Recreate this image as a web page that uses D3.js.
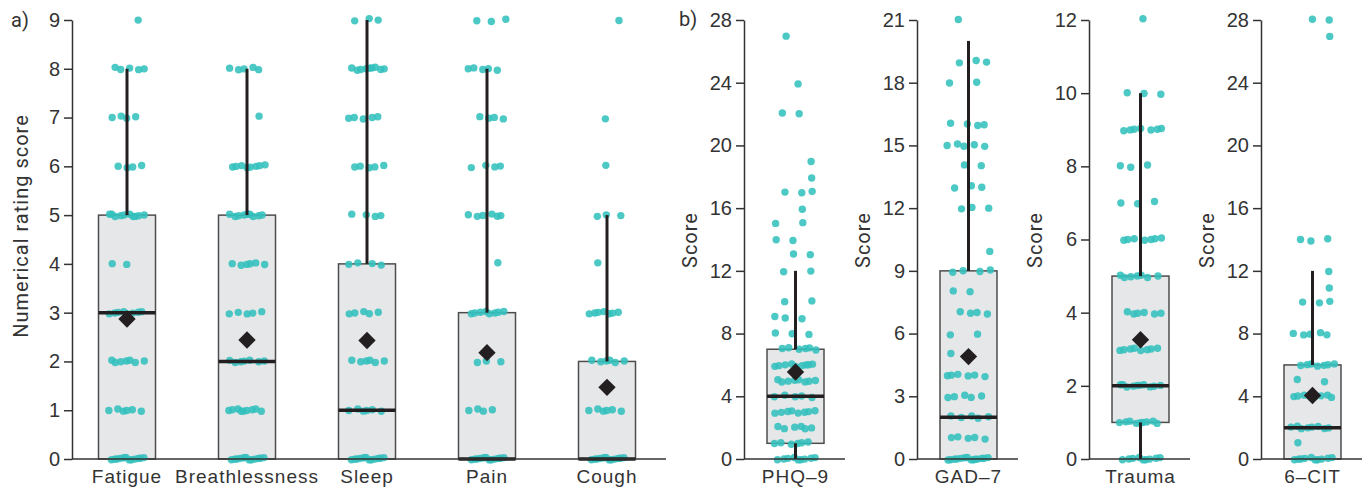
<!DOCTYPE html>
<html>
<head>
<meta charset="utf-8">
<script src="https://cdn.jsdelivr.net/npm/d3@7"></script>
<style>
  body { margin: 0; background: #fff; }
  svg { display: block; font-family: Roboto, "DejaVu Sans", sans-serif; }
  .tick text { font-size: 20px; fill: #333; }
</style>
</head>
<body>
<svg id="chart" width="1363" height="491"></svg>
<script>
// ---- panel a: symptom ratings (counts of patients at each score 0..9)
const symptoms = ["Fatigue", "Breathlessness", "Sleep", "Pain", "Cough"]
const symptomCounts = [
  [12, 6, 7, 8, 2, 10, 4, 4, 5, 1],
  [12, 9, 7, 5, 6, 9, 8, 1, 5, 0],
  [12, 6, 6, 5, 4, 4, 5, 5, 9, 3],
  [12, 4, 3, 8, 1, 6, 4, 4, 5, 3],
  [12, 6, 6, 7, 1, 3, 1, 1, 0, 1]
]
const symptomQ1 = [0, 0, 0, 0, 0]
const symptomMedian = [3, 2, 1, 0, 0]
const symptomQ3 = [5, 5, 4, 3, 2]
const symptomWhiskerLo = [0, 0, 0, 0, 0]
const symptomWhiskerHi = [8, 8, 9, 8, 5]
const symptomMean = [2.87, 2.44, 2.43, 2.18, 1.47]
const symptomTicks = [0, 1, 2, 3, 4, 5, 6, 7, 8, 9]

// ---- panel b: questionnaires (counts at each score, index = score)
const scales = ["PHQ–9", "GAD–7", "Trauma", "6–CIT"]
const scaleCounts = [
  [9, 6, 6, 8, 5, 8, 9, 6, 3, 3, 2, 0, 2, 2, 2, 2, 1, 3, 1, 1, 0, 0, 2, 0, 1, 0, 0, 1],
  [14, 5, 5, 5, 6, 1, 2, 4, 2, 4, 1, 0, 3, 3, 2, 5, 4, 0, 2, 3, 0, 1],
  [9, 9, 10, 8, 6, 7, 7, 3, 3, 7, 3, 0, 1],
  [10, 1, 8, 0, 8, 2, 7, 0, 5, 0, 3, 1, 1, 0, 3, 0, 0, 0, 0, 0, 0, 0, 0, 0, 0, 0, 0, 1, 2]
]
const scaleQ1 = [1, 0, 1, 0]
const scaleMedian = [4, 2, 2, 2]
const scaleQ3 = [7, 9, 5, 6]
const scaleWhiskerLo = [0, 0, 0, 0]
const scaleWhiskerHi = [12, 20, 10, 12]
const scaleMean = [5.55, 4.9, 3.26, 4.05]
const scaleMax = [28, 21, 12, 28]
const scaleTicks = [
  [0, 4, 8, 12, 16, 20, 24, 28],
  [0, 3, 6, 9, 12, 15, 18, 21],
  [0, 2, 4, 6, 8, 10, 12],
  [0, 4, 8, 12, 16, 20, 24, 28]
]

const svg = d3.select("#chart")
const yTop = 20, yBottom = 459
const dotColor = "#33c0bd"
const ink = "#231f20"

// spread points of the same score across the box (quasi-random, repeatable)
function spreadPoints(counts, spread) {
  const pts = []
  let k = 0
  counts.forEach((n, score) => {
    for (let i = 0; i < n; i++) {
      k++
      const fx = ((k * 0.618034 + score * 0.37) % 1) - 0.5
      const fy = ((k * 0.754878) % 1) - 0.5
      pts.push({score, dx: fx * 2 * spread, dy: fy * 3})
    }
  })
  return pts
}

function drawBox(g, x, y, cat, bw, st, counts, spread) {
  const cx = x(cat) + x.bandwidth() / 2
  // box
  g.append("rect")
    .attr("x", cx - bw / 2).attr("y", y(st.q3))
    .attr("width", bw).attr("height", y(st.q1) - y(st.q3))
    .attr("fill", "#e6e7e8").attr("stroke", "#4d4d4d").attr("stroke-width", 1.5)

  // dots
  g.append("g").selectAll("circle")
    .data(spreadPoints(counts, spread))
    .join("circle")
      .attr("cx", d => cx + d.dx)
      .attr("cy", d => y(d.score) + d.dy)
      .attr("r", 3.7)
      .attr("fill", dotColor)
      .attr("fill-opacity", 0.88)

  // whiskers
  if (st.hi > st.q3) {
    g.append("line").attr("x1", cx).attr("x2", cx).attr("y1", y(st.q3)).attr("y2", y(st.hi))
      .attr("stroke", ink).attr("stroke-width", 3)
  }
  if (st.lo < st.q1) {
    g.append("line").attr("x1", cx).attr("x2", cx).attr("y1", y(st.q1)).attr("y2", y(st.lo))
      .attr("stroke", ink).attr("stroke-width", 3)
  }
  // median
  g.append("line")
    .attr("x1", cx - bw / 2).attr("x2", cx + bw / 2)
    .attr("y1", y(st.median)).attr("y2", y(st.median))
    .attr("stroke", ink).attr("stroke-width", 3.5)
  // mean diamond
  g.append("path")
    .attr("d", d3.symbol(d3.symbolSquare, 150)())
    .attr("transform", `translate(${cx},${y(st.mean)}) rotate(45)`)
    .attr("fill", ink)
}

function drawAxes(g, x, y, ticks, axisX, axisEnd) {
  g.append("g")
    .attr("transform", `translate(${axisX},0)`)
    .call(d3.axisLeft(y).tickValues(ticks).tickSize(8).tickPadding(4).tickSizeOuter(0))
    .call(a => a.select(".domain").attr("stroke", "#333").attr("stroke-width", 1.5))
    .call(a => a.selectAll(".tick line").attr("stroke", "#333").attr("stroke-width", 1.5))

  g.append("line")
    .attr("x1", axisX).attr("x2", axisEnd).attr("y1", yBottom).attr("y2", yBottom)
    .attr("stroke", "#333").attr("stroke-width", 1.5)

  g.append("g")
    .attr("transform", `translate(0,${yBottom})`)
    .call(d3.axisBottom(x).tickSize(0).tickPadding(11))
    .call(a => a.select(".domain").remove())
    .selectAll("text").style("font-size", "19px").style("letter-spacing", "1px")
}

function yLabel(text, bx, cy) {
  svg.append("text")
    .attr("transform", `translate(${bx},${cy}) rotate(-90)`)
    .attr("text-anchor", "middle")
    .style("font-size", "20px").style("letter-spacing", "1px").attr("fill", "#333")
    .text(text)
}

// ---- panel a
const ga = svg.append("g")
const xa = d3.scaleBand().domain(symptoms).range([67, 667])
const ya = d3.scaleLinear().domain([0, 9]).range([yBottom, yTop])
symptoms.forEach((s, i) => {
  drawBox(ga, xa, ya, s, 57, {
    q1: symptomQ1[i], median: symptomMedian[i], q3: symptomQ3[i],
    lo: symptomWhiskerLo[i], hi: symptomWhiskerHi[i], mean: symptomMean[i]
  }, symptomCounts[i], 19)
})
drawAxes(ga, xa, ya, symptomTicks, 72, 666)
yLabel("Numerical rating score", 28, 226)
svg.append("text").attr("x", 11).attr("y", 27)
  .style("font-size", "20px").attr("fill", "#333").text("a)")

// ---- panel b
const axisXs = [744, 917, 1089, 1261]
scales.forEach((s, i) => {
  const g = svg.append("g")
  const x = d3.scaleBand().domain([s]).range([axisXs[i], axisXs[i] + 103])
  const y = d3.scaleLinear().domain([0, scaleMax[i]]).range([yBottom, yTop])
  drawBox(g, x, y, s, 57, {
    q1: scaleQ1[i], median: scaleMedian[i], q3: scaleQ3[i],
    lo: scaleWhiskerLo[i], hi: scaleWhiskerHi[i], mean: scaleMean[i]
  }, scaleCounts[i], 22)
  drawAxes(g, x, y, scaleTicks[i], axisXs[i], axisXs[i] + 101)
  yLabel("Score", axisXs[i] - 47, 240)
})
svg.append("text").attr("x", 679).attr("y", 26)
  .style("font-size", "20px").attr("fill", "#333").text("b)")
</script>
</body>
</html>
